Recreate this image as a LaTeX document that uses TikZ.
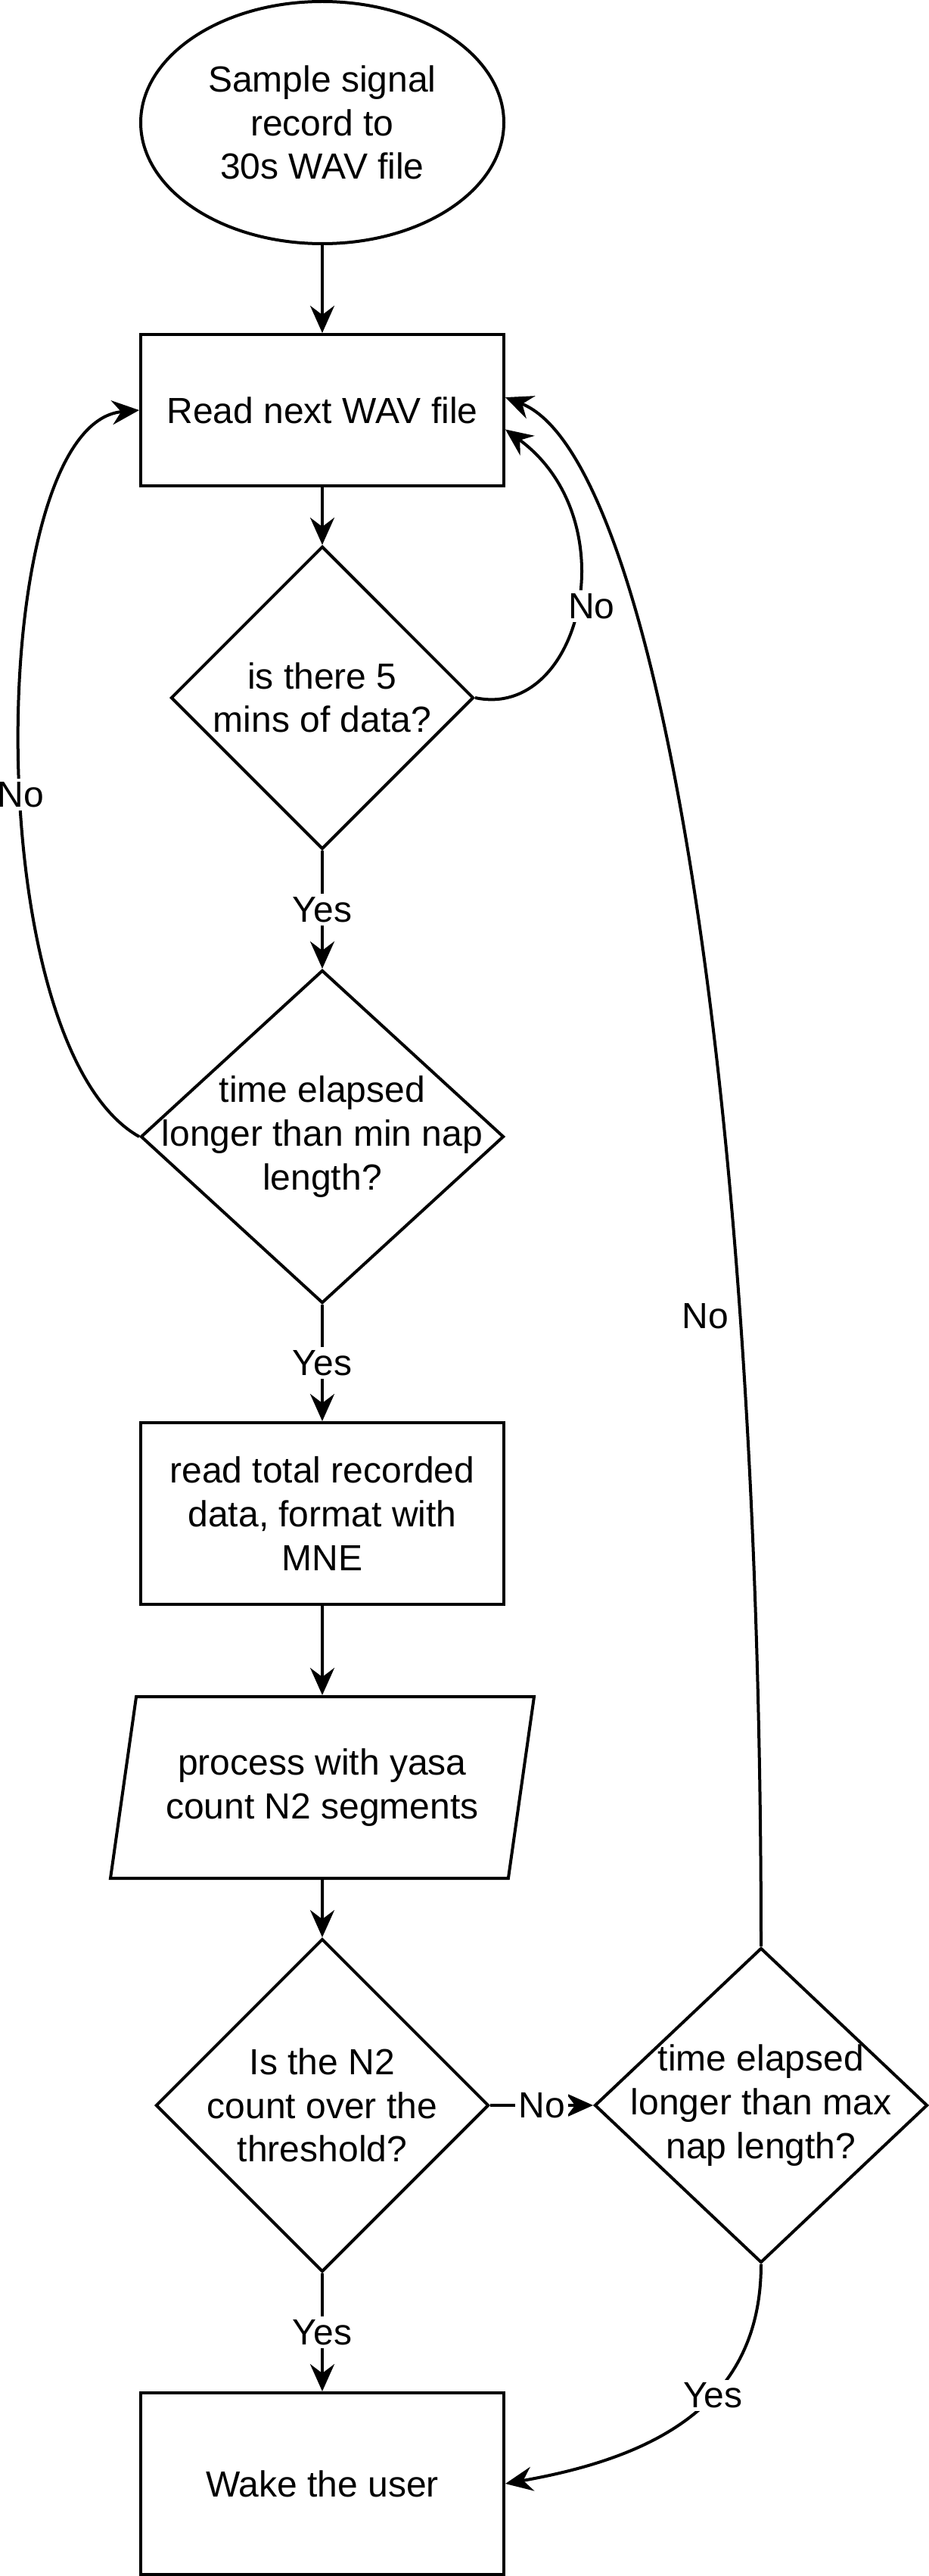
\documentclass[tikz,border=0pt]{standalone}
\usepackage{fontspec}
\setmainfont{Liberation Sans}
\usetikzlibrary{shapes.geometric,arrows.meta}

\begin{document}
\begin{tikzpicture}[x=1pt,y=-1pt,line width=1pt,
		every node/.style={font=\fontsize{12}{14.4}\selectfont,align=center},
		start/.style={draw,ellipse,minimum width=120pt,minimum height=80pt,inner sep=0pt},
		box/.style={draw,rectangle,minimum width=120pt,inner sep=0pt},
		dec/.style={draw,diamond,inner sep=0pt},
		io/.style={draw,trapezium,trapezium left angle=71.57,trapezium right angle=108.43,
			trapezium stretches body,minimum width=140pt,minimum height=60pt,inner sep=0pt},
		lbl/.style={fill=white,inner sep=1pt},
		arr/.style={-{Stealth[length=9pt,width=8pt,inset=3pt]}}
	]
	\useasboundingbox (0,0) rectangle (307,851);
	
	\node [start] (rec) at (106.5,40.5) {Sample signal\\record to\\30s WAV file};
	\node [box,minimum height=50pt] (read) at (106.5,135.5) {Read next WAV file};
	\node [dec,minimum width=100pt,minimum height=100pt,
		label=center:{is there 5\\mins of data?}] (five) at (106.5,230.5) {};
	\node [dec,minimum width=120pt,minimum height=110pt,
		label=center:{time elapsed\\longer than min nap\\length?}] (minnap) at (106.5,375.5) {};
	\node [box,minimum height=60pt] (mne) at (106.5,500) {read total recorded\\data, format with\\MNE};
	\node [io] (yasa) at (106.5,590.5) {process with yasa\\count N2 segments};
	\node [dec,minimum width=110pt,minimum height=110pt,
		label=center:{Is the N2\\count over the\\threshold?}] (thr) at (106.5,695.5) {};
	\node [dec,minimum width=110pt,minimum height=104pt,
		label=center:{time elapsed\\longer than max\\nap length?}] (maxnap) at (251.5,695.5) {};
	\node [box,minimum height=60pt] (wake) at (106.5,820.5) {Wake the user};
	
	\draw [arr] (rec) -- (read);
	\draw [arr] (read) -- (five);
	\draw [arr] (five) -- node[lbl]{Yes} (minnap);
	\draw [arr] (minnap) -- node[lbl]{Yes} (mne);
	\draw [arr] (mne) -- (yasa);
	\draw [arr] (yasa) -- (thr);
	\draw [arr] (thr) -- node[lbl]{Yes} (wake);
	\draw [arr] (thr) -- node[lbl]{No} (maxnap);
	
	\draw [arr] (five.east) .. controls (192,238) and (208,172) .. (read.-6) node[lbl,pos=0.5,xshift=5pt]{No};
	\draw [arr] (minnap.west) .. controls (-8,345) and (-5,140) .. (read.west) node[lbl,pos=0.45]{No};
	\draw [arr] (maxnap.north) .. controls (251.5,350) and (215,150) .. (read.4) node[pos=0.26,left]{No};
	\draw [arr] (maxnap.south) .. controls (251.5,795) and (215,812) .. (wake.east) node[lbl,pos=0.4]{Yes};
\end{tikzpicture}
\end{document}
